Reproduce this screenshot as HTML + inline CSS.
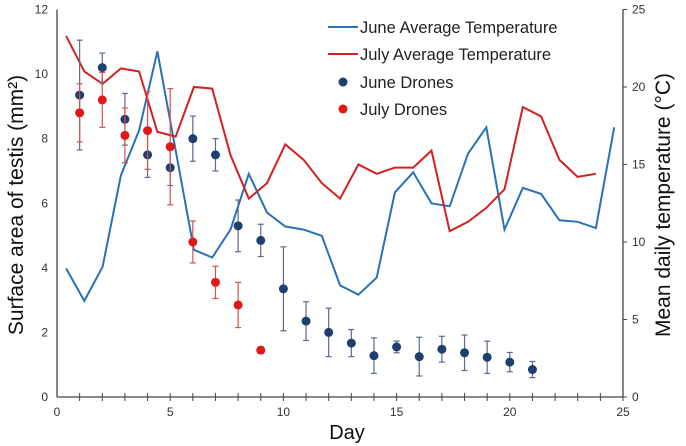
<!DOCTYPE html>
<html><head><meta charset="utf-8"><style>
body{margin:0;background:#fff}
svg{display:block;font-family:"Liberation Sans",sans-serif}
</style></head><body>
<svg id="chart" width="686" height="446">
<g id="axes"></g>
<g id="marks"></g>
<g id="legend">
 <line x1="328" y1="27" x2="358" y2="27" stroke="#2a72b5" stroke-width="2"/>
 <text x="360" y="33" font-size="16.5" fill="#222">June Average Temperature</text>
 <line x1="328" y1="54" x2="358" y2="54" stroke="#d42020" stroke-width="2"/>
 <text x="360" y="60" font-size="16.5" fill="#222">July Average Temperature</text>
 <circle cx="343" cy="82" r="4.5" fill="#1f3f6e"/>
 <text x="360" y="88" font-size="16.5" fill="#222">June Drones</text>
 <circle cx="343" cy="109" r="4.5" fill="#e01818"/>
 <text x="360" y="115" font-size="16.5" fill="#222">July Drones</text>
</g>
<text x="0" y="0" transform="translate(23,205) rotate(-90)" text-anchor="middle" font-size="21" fill="#111">Surface area of testis (mm²)</text>
<text x="0" y="0" transform="translate(670,205) rotate(-90)" text-anchor="middle" font-size="21" fill="#111">Mean daily temperature (°C)</text>
<text x="347" y="439" text-anchor="middle" font-size="20" fill="#111">Day</text>
</svg>
<script>
const leftTicks=[0,2,4,6,8,10,12];
const rightTicks=[0,5,10,15,20,25];
const xTicks=[0,5,10,15,20,25];
const juneTemp=[8.3,6.2,8.4,14.3,17.2,22.3,15.9,9.5,9.0,10.8,14.4,11.9,11.0,10.8,10.4,7.2,6.6,7.7,13.2,14.5,12.5,12.3,15.7,17.4,10.8,13.5,13.1,11.4,11.3,10.9,17.4];
const julyTemp=[23.3,21.0,20.2,21.2,21.0,17.1,16.8,20.0,19.9,15.6,12.8,13.8,16.3,15.3,13.8,12.8,15.0,14.4,14.8,14.8,15.9,10.7,11.3,12.2,13.4,18.7,18.1,15.3,14.2,14.4];
const juneDays=[1,2,3,4,5,6,7,8,9,10,11,12,13,14,15,16,17,18,19,20,21];
const juneArea=[9.35,10.2,8.6,7.5,7.1,8.0,7.5,5.3,4.85,3.35,2.35,2.0,1.67,1.28,1.55,1.25,1.48,1.37,1.23,1.08,0.85];
const juneErr=[1.7,0.45,0.8,0.7,0.55,0.7,0.5,0.8,0.5,1.3,0.6,0.75,0.42,0.55,0.18,0.6,0.4,0.55,0.5,0.3,0.25];
const julyDays=[1,2,3,4,5,6,7,8,9];
const julyArea=[8.8,9.2,8.1,8.25,7.75,4.8,3.55,2.85,1.45];
const julyErr=[0.9,0.85,0.85,1.2,1.8,0.65,0.5,0.7,0.1];
const tempStart=0.4, tempStep=0.807;
const X0=57,X1=623,Y0=397,Y1=9.5;
const x=d=>X0+(X1-X0)*d/25;
const yl=v=>Y0-(Y0-Y1)*v/12;
const yr=v=>Y0-(Y0-Y1)*v/25;
const NS='http://www.w3.org/2000/svg';
function mk(tag,attrs,parent){const e=document.createElementNS(NS,tag);for(const k in attrs)e.setAttribute(k,attrs[k]);parent.appendChild(e);return e;}
const ax=document.getElementById('axes'), mg=document.getElementById('marks');
let e;
e=mk('line',{x1:X0,y1:Y1,x2:X0,y2:Y0,stroke:'#444','stroke-width':1.3},ax);


e=mk('line',{x1:X1,y1:Y1,x2:X1,y2:Y0,stroke:'#444','stroke-width':1.3},ax);


e=mk('line',{x1:X0,y1:Y0,x2:X1,y2:Y0,stroke:'#444','stroke-width':1.3},ax);


for(let d=1;d<=25;d++){e=mk('line',{x1:x(d),y1:Y0-4,x2:x(d),y2:Y0+4,stroke:'#444','stroke-width':1},ax);

}
xTicks.forEach(t=>{e=mk('text',{x:x(t),y:Y0+19,'text-anchor':'middle','font-size':12,fill:'#333'},ax);e.textContent=t;

});
leftTicks.forEach(t=>{e=mk('text',{x:X0-9,y:yl(t)+4,'text-anchor':'end','font-size':12,fill:'#333'},ax);e.textContent=t;

});
rightTicks.forEach(t=>{mk('line',{x1:X1,y1:yr(t),x2:X1+4,y2:yr(t),stroke:'#444'},ax);
e=mk('text',{x:X1+9,y:yr(t)+4,'font-size':12,fill:'#333'},ax);e.textContent=t;

});
function line(arr,col,name){const p=arr.map((v,i)=>x(tempStart+i*tempStep).toFixed(1)+','+yr(v).toFixed(1)).join(' ');
const l=mk('polyline',{points:p,fill:'none',stroke:col,'stroke-width':2},mg);

}
line(juneTemp,'#2a72b5','june-temperature-line');
line(julyTemp,'#d42020','july-temperature-line');
function pts(days,vals,errs,col,ecol,name){days.forEach((d,i)=>{const cx=x(d),t=yl(vals[i]+errs[i]),b=yl(vals[i]-errs[i]);
mk('line',{x1:cx,y1:t,x2:cx,y2:b,stroke:ecol,'stroke-width':1.2},mg);
mk('line',{x1:cx-3,y1:t,x2:cx+3,y2:t,stroke:ecol,'stroke-width':1.2},mg);
mk('line',{x1:cx-3,y1:b,x2:cx+3,y2:b,stroke:ecol,'stroke-width':1.2},mg);
const c=mk('circle',{cx:cx,cy:yl(vals[i]),r:4.5,fill:col},mg);

});}
pts(juneDays,juneArea,juneErr,'#1f3f6e','#5a6d8a','june-drone-point');
pts(julyDays,julyArea,julyErr,'#e01818','#d65050','july-drone-point');
</script>
</body></html>
